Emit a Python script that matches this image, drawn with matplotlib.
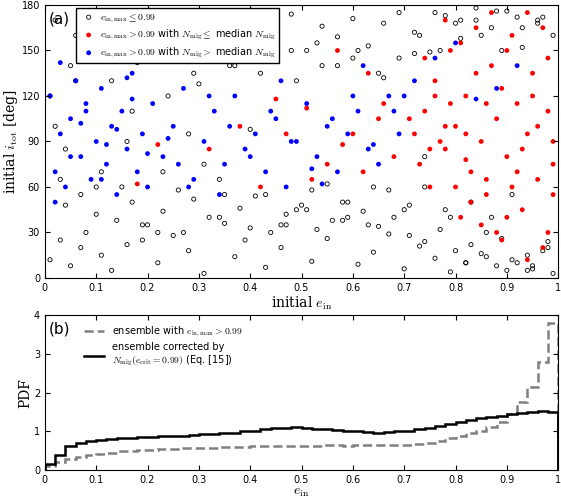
import numpy as np
import matplotlib.pyplot as plt

plt.rcParams['mathtext.fontset'] = 'cm'

# top panel: scatter (approximate subset)
black_e = [0.01,0.03,0.05,0.08,0.11,0.13,0.16,0.19,0.22,0.25,0.28,0.31,0.34,0.37,0.40,0.43,0.46,0.49,0.52,0.55,0.58,0.61,0.64,0.67,0.70,0.73,0.76,0.79,0.82,0.85,0.88,0.91,0.94,0.97,
           0.02,0.06,0.09,0.12,0.15,0.18,0.21,0.24,0.27,0.30,0.33,0.36,0.39,0.42,0.45,0.48,0.51,0.54,0.57,0.60,0.63,0.66,0.69,0.72,0.75,0.78,0.81,0.84,0.87,0.90,0.93,0.96,0.99,
           0.04,0.07,0.10,0.14,0.17,0.20,0.23,0.26,0.29,0.32,0.35,0.38,0.41,0.44,0.47,0.50,0.53,0.56,0.59,0.62,0.65,0.68,0.71,0.74,0.77,0.80,0.83,0.86,0.89,0.92,0.95,0.98,
           0.02,0.05,0.09,0.13,0.17,0.21,0.25,0.29,0.33,0.37,0.41,0.45,0.49,0.53,0.57,0.61,0.65,0.69,0.73,0.77,0.81,0.85,0.89,0.93,0.97,
           0.03,0.07,0.11,0.15,0.19,0.23,0.27,0.31,0.35,0.39,0.43,0.47,0.51,0.55,0.59,0.63,0.67,0.71,0.74,0.78,0.82,0.86,0.90,0.94,0.98,
           0.01,0.06,0.12,0.18,0.24,0.30,0.36,0.42,0.48,0.54,0.60,0.66,0.72,0.76,0.80,0.84,0.88,0.92,0.96,
           0.04,0.10,0.16,0.22,0.28,0.34,0.40,0.46,0.52,0.58,0.64,0.70,0.74,0.79,0.83,0.87,0.91,0.95,0.99]
black_i = [12,25,8,30,15,5,22,35,10,28,18,3,40,14,33,7,20,45,11,26,38,9,17,29,6,21,13,4,10,16,8,12,5,18,
           170,160,175,150,165,172,158,168,145,176,155,162,148,170,157,174,150,166,159,171,153,168,175,162,149,173,158,170,165,176,152,168,160,
           48,55,42,38,50,35,44,58,52,40,36,46,54,30,42,48,32,38,50,44,34,40,28,24,32,18,22,14,26,10,6,20,
           100,140,155,130,110,145,150,135,160,140,150,145,130,155,140,150,135,145,160,150,170,160,150,165,172,
           65,20,70,60,25,70,30,75,55,25,55,35,45,62,40,35,58,48,60,45,10,30,5,15,24,
           120,130,150,142,120,128,140,135,150,140,145,132,148,175,168,178,176,172,170,
           85,60,90,30,95,65,98,35,58,50,60,45,80,40,50,40,55,8,3]

red_e = [0.72,0.74,0.75,0.76,0.78,0.79,0.80,0.81,0.82,0.83,0.84,0.85,0.86,0.87,0.88,0.89,0.90,0.91,0.92,0.93,0.94,0.95,0.96,0.97,0.98,0.99,
         0.73,0.76,0.78,0.80,0.82,0.84,0.86,0.88,0.90,0.92,0.94,0.96,0.98,0.99,0.77,0.81,0.85,0.89,0.93,0.97,
         0.71,0.75,0.79,0.83,0.87,0.91,0.95,0.99,0.74,0.78,0.82,0.86,0.90,0.94,0.98,
         0.32,0.38,0.42,0.47,0.51,0.55,0.58,0.62,0.65,0.68,0.45,0.52,0.60,0.66,0.22,0.18,0.57,0.63]
red_i = [95,110,60,130,85,150,100,40,120,70,165,90,55,140,105,25,80,160,115,45,95,135,65,20,110,75,
         75,120,170,60,95,135,115,30,150,70,175,100,145,55,90,155,35,125,85,165,
         105,85,115,50,175,60,120,90,145,100,78,65,40,12,30,
         85,100,60,95,112,75,88,70,105,80,118,65,95,115,88,62,150,135]

blue_e = [0.01,0.02,0.03,0.04,0.05,0.06,0.07,0.08,0.09,0.10,0.11,0.12,0.13,0.14,0.15,0.16,0.17,0.18,0.19,0.20,
          0.21,0.23,0.25,0.27,0.29,0.31,0.33,0.35,0.37,0.39,0.41,0.43,0.45,0.47,0.49,0.51,0.53,0.55,0.57,0.59,
          0.61,0.63,0.65,0.67,0.69,0.02,0.05,0.08,0.11,0.14,0.17,0.20,0.24,0.28,0.32,0.36,0.40,0.44,0.48,0.52,
          0.56,0.60,0.64,0.68,0.72,0.76,0.80,0.84,0.88,0.92,0.03,0.07,0.12,0.16,0.26,0.34,0.46,0.54,0.62,0.70]
blue_i = [120,70,95,60,105,130,80,115,65,90,125,75,100,55,110,85,135,70,95,60,
          115,80,100,125,65,90,110,75,120,85,95,70,105,60,90,115,80,100,70,95,
          110,85,75,120,95,50,80,110,65,98,118,82,92,60,120,100,80,110,90,72,
          105,120,88,110,130,145,155,118,125,140,142,102,88,132,75,55,130,62,140,120]

# bottom panel: PDFs per bin of width 0.02
edges = np.linspace(0, 1, 51)
pdf_all = [0.10,0.20,0.28,0.33,0.38,0.42,0.45,0.48,0.50,0.52,0.53,0.54,0.55,0.56,0.57,0.58,0.58,0.59,0.60,0.60,
           0.61,0.61,0.62,0.62,0.62,0.63,0.63,0.64,0.64,0.63,0.64,0.64,0.65,0.65,0.66,0.66,0.68,0.70,0.76,0.82,
           0.88,0.95,1.02,1.12,1.25,1.45,1.75,2.15,2.80,3.80]
pdf_corr = [0.15,0.40,0.62,0.70,0.75,0.78,0.80,0.82,0.83,0.85,0.86,0.87,0.88,0.89,0.90,0.92,0.93,0.95,0.97,1.00,
            1.02,1.05,1.08,1.10,1.12,1.10,1.07,1.05,1.03,1.02,1.00,0.98,0.97,0.98,1.00,1.02,1.05,1.10,1.15,1.20,
            1.25,1.30,1.35,1.38,1.40,1.45,1.48,1.50,1.52,1.50]

fig = plt.figure(figsize=(5.61, 4.99), dpi=100)
ax1 = fig.add_axes([0.08, 0.443, 0.915, 0.547])
ax2 = fig.add_axes([0.08, 0.058, 0.915, 0.31])

ax1.scatter(black_e, black_i, s=9, facecolors='none', edgecolors='k', linewidths=0.6,
            label=r'$e_{\rm in,max}\leq 0.99$')
ax1.scatter(red_e, red_i, s=12, color='#ff0000', edgecolors='none',
            label=r'$e_{\rm in,max}>0.99$ with $N_{\rm mig}\leq$ median $N_{\rm mig}$')
ax1.scatter(blue_e, blue_i, s=12, color='#0000ff', edgecolors='none',
            label=r'$e_{\rm in,max}>0.99$ with $N_{\rm mig}>$ median $N_{\rm mig}$')
ticklabels = ['0', '0.1', '0.2', '0.3', '0.4', '0.5', '0.6', '0.7', '0.8', '0.9', '1']
ax1.set_xlim(0, 1)
ax1.set_ylim(0, 180)
ax1.set_xticks(np.arange(0, 1.01, 0.1))
ax1.set_xticklabels(ticklabels)
ax1.set_yticks(np.arange(0, 181, 30))
ax1.set_xlabel(r'initial $e_{\rm in}$', family='serif', fontsize=10, labelpad=1)
ax1.set_ylabel(r'initial $i_{\rm tot}$ [deg]', family='serif', fontsize=10, labelpad=1)
ax1.tick_params(labelsize=7, direction='in', top=True, right=True)
ax1.text(0.008, 0.975, '(a)', transform=ax1.transAxes, fontsize=11, va='top')
ax1.legend(loc='upper left', bbox_to_anchor=(0.055, 1.0), fontsize=7, handletextpad=0.2,
           borderpad=0.3, labelspacing=0.3, fancybox=False, edgecolor='k', framealpha=1,
           borderaxespad=0.3)

ax2.stairs(pdf_all, edges, color='gray', linestyle='--', linewidth=1.8,
           label=r'ensemble with $e_{\rm in,max}>0.99$')
ax2.stairs(pdf_corr, edges, color='k', linewidth=1.8,
           label='ensemble corrected by\n' + r'$N_{\rm mig}(e_{\rm crit}=0.99)$ (Eq. [15])')
ax2.plot([1, 1], [0, pdf_corr[-1]], color='k', linewidth=1.8)
ax2.set_xlim(0, 1)
ax2.set_ylim(0, 4)
ax2.set_xticks(np.arange(0, 1.01, 0.1))
ax2.set_xticklabels(ticklabels)
ax2.set_yticks([0, 1, 2, 3, 4])
ax2.set_xlabel(r'$e_{\rm in}$', fontsize=10, labelpad=0)
ax2.set_ylabel('PDF', family='serif', fontsize=10, labelpad=1)
ax2.tick_params(labelsize=7, direction='in', top=True, right=True)
ax2.text(0.008, 0.96, '(b)', transform=ax2.transAxes, fontsize=11, va='top')
ax2.legend(loc='upper left', bbox_to_anchor=(0.06, 1.0), fontsize=7, frameon=False,
           handlelength=2.0, labelspacing=0.3)

fig.savefig('out.png', dpi=100)
